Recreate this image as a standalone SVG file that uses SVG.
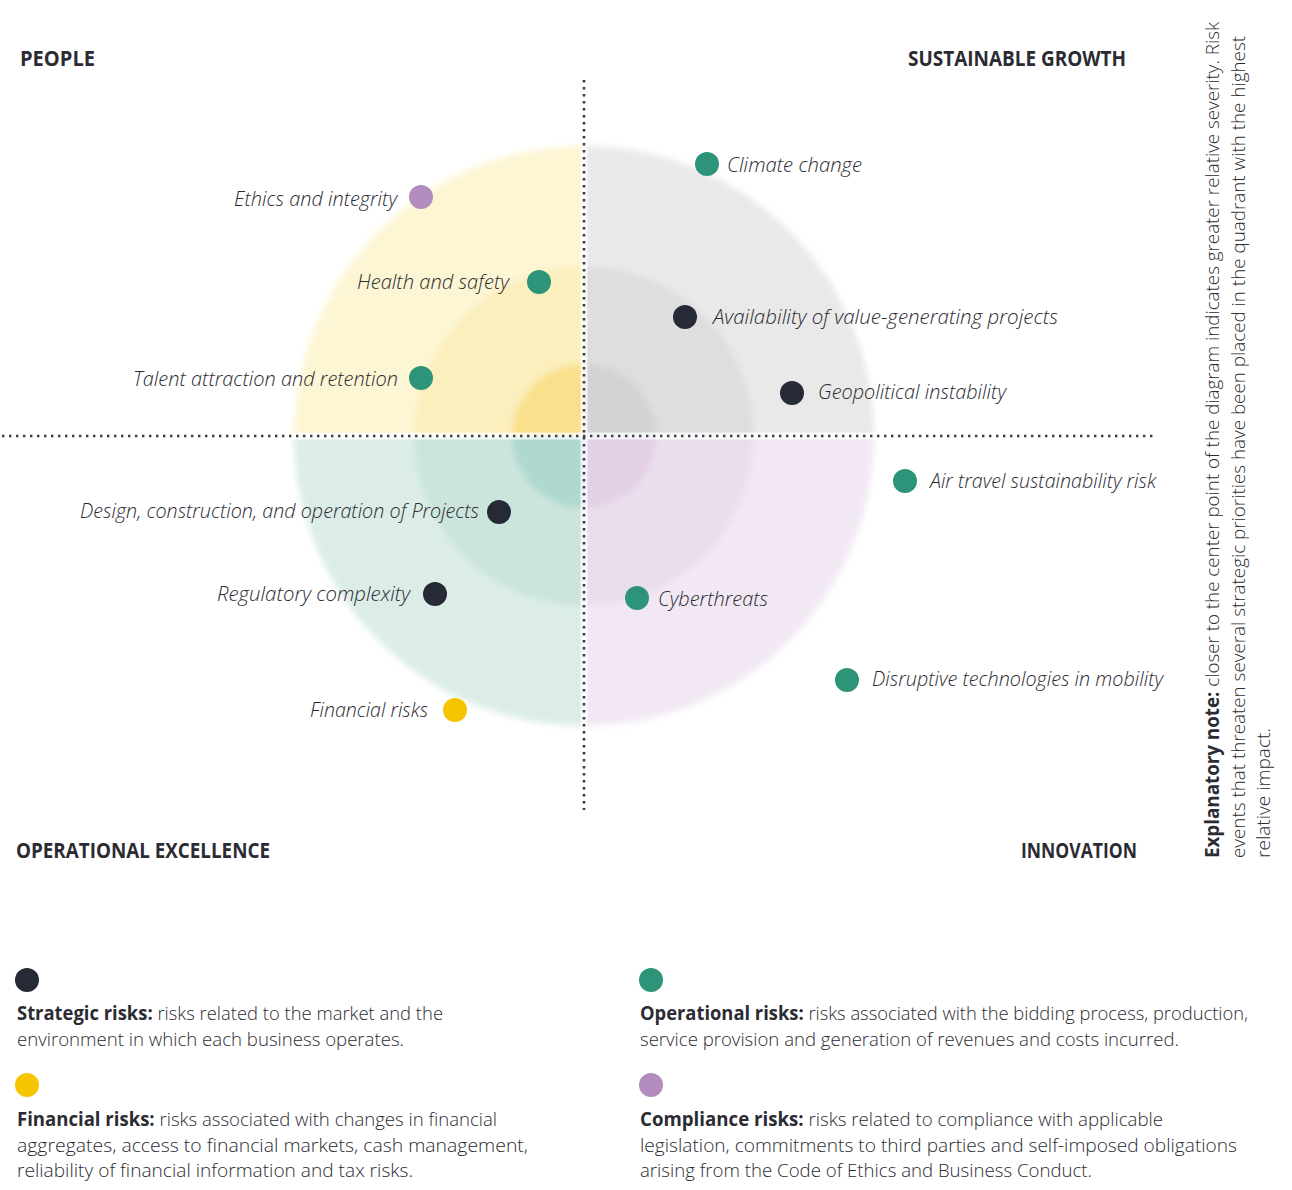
<svg xmlns="http://www.w3.org/2000/svg" width="1292" height="1190" viewBox="0 0 1292 1190">
<defs>
<style>
.lbl{font-family:"Open Sans","Noto Sans",sans-serif;font-style:italic;font-weight:300;font-size:20px;fill:#2b2b33}
.ttl{font-family:"Open Sans","Noto Sans",sans-serif;font-weight:700;font-size:21px;fill:#2b2b33}
.leg{font-family:"Open Sans","Noto Sans",sans-serif;font-weight:300;font-size:19px;fill:#2b2b33}
.leg .b{font-weight:700}
.note{font-family:"Open Sans","Noto Sans",sans-serif;font-weight:300;font-size:19px;fill:#2b2b33}
.note .b{font-weight:700}
.dk{fill:#262a36}.gr{fill:#2e9479}.pu{fill:#b28cbf}.ye{fill:#f6c500}
.dotw{stroke:#ffffff;stroke-width:7;stroke-opacity:0.75;fill:none}
.dotk{stroke:#3a3d44;stroke-width:2.6;stroke-dasharray:2.4 4.6;fill:none}
</style>
<clipPath id="cTL"><rect x="0" y="0" width="584" height="436"/></clipPath>
<clipPath id="cTR"><rect x="584" y="0" width="708" height="436"/></clipPath>
<clipPath id="cBL"><rect x="0" y="436" width="584" height="760"/></clipPath>
<clipPath id="cBR"><rect x="584" y="436" width="708" height="760"/></clipPath>
<filter id="soft" x="-10%" y="-10%" width="120%" height="120%"><feGaussianBlur stdDeviation="3"/></filter>
</defs>
<rect x="0" y="0" width="1292" height="1190" fill="#ffffff"/>

<g id="target">
<g clip-path="url(#cTL)"><g filter="url(#soft)">
<circle cx="584" cy="436" r="290" fill="#fdf6d4"/>
<circle cx="584" cy="436" r="170" fill="#fcefbe"/>
<circle cx="584" cy="436" r="72" fill="#f9e08c"/>
</g></g>
<g clip-path="url(#cTR)"><g filter="url(#soft)">
<circle cx="584" cy="436" r="290" fill="#e9e9e9"/>
<circle cx="584" cy="436" r="170" fill="#dedede"/>
<circle cx="584" cy="436" r="72" fill="#d3d3d3"/>
</g></g>
<g clip-path="url(#cBL)"><g filter="url(#soft)">
<circle cx="584" cy="436" r="290" fill="#dcede7"/>
<circle cx="584" cy="436" r="170" fill="#cbe5dc"/>
<circle cx="584" cy="436" r="72" fill="#afd8d0"/>
</g></g>
<g clip-path="url(#cBR)"><g filter="url(#soft)">
<circle cx="584" cy="436" r="290" fill="#f2e8f4"/>
<circle cx="584" cy="436" r="170" fill="#e9dfec"/>
<circle cx="584" cy="436" r="72" fill="#e3cfe6"/>
</g></g>
</g>

<g id="connectors">
<line class="dotw" x1="0" y1="436" x2="1155" y2="436"/>
<line class="dotw" x1="584" y1="78" x2="584" y2="810"/>
<line class="dotk" x1="2" y1="436" x2="1155" y2="436"/>
<line class="dotk" x1="584" y1="80" x2="584" y2="810"/>
</g>

<g id="titles">
<text class="ttl" x="20" y="66" textLength="75" lengthAdjust="spacingAndGlyphs">PEOPLE</text>
<text class="ttl" x="908" y="66" textLength="218" lengthAdjust="spacingAndGlyphs">SUSTAINABLE GROWTH</text>
<text class="ttl" x="16" y="858" textLength="254" lengthAdjust="spacingAndGlyphs">OPERATIONAL EXCELLENCE</text>
<text class="ttl" x="1021" y="858" textLength="116" lengthAdjust="spacingAndGlyphs">INNOVATION</text>
</g>

<g id="risk-ethics"><circle class="pu" cx="421" cy="197" r="12"/><text class="lbl" x="234" y="206" textLength="163" lengthAdjust="spacingAndGlyphs">Ethics and integrity</text></g>
<g id="risk-health"><circle class="gr" cx="539" cy="282" r="12"/><text class="lbl" x="357" y="289" textLength="152" lengthAdjust="spacingAndGlyphs">Health and safety</text></g>
<g id="risk-talent"><circle class="gr" cx="421" cy="378" r="12"/><text class="lbl" x="133" y="386" textLength="265" lengthAdjust="spacingAndGlyphs">Talent attraction and retention</text></g>
<g id="risk-climate"><circle class="gr" cx="707" cy="164" r="12"/><text class="lbl" x="727" y="172" textLength="135" lengthAdjust="spacingAndGlyphs">Climate change</text></g>
<g id="risk-availability"><circle class="dk" cx="685" cy="317" r="12"/><text class="lbl" x="713" y="324" textLength="345" lengthAdjust="spacingAndGlyphs">Availability of value-generating projects</text></g>
<g id="risk-geopolitical"><circle class="dk" cx="792" cy="393" r="12"/><text class="lbl" x="818" y="399" textLength="188" lengthAdjust="spacingAndGlyphs">Geopolitical instability</text></g>
<g id="risk-airtravel"><circle class="gr" cx="905" cy="481" r="12"/><text class="lbl" x="930" y="488" textLength="226" lengthAdjust="spacingAndGlyphs">Air travel sustainability risk</text></g>
<g id="risk-design"><circle class="dk" cx="499" cy="512" r="12"/><text class="lbl" x="80" y="518" textLength="399" lengthAdjust="spacingAndGlyphs">Design, construction, and operation of Projects</text></g>
<g id="risk-regulatory"><circle class="dk" cx="435" cy="594" r="12"/><text class="lbl" x="217" y="601" textLength="193" lengthAdjust="spacingAndGlyphs">Regulatory complexity</text></g>
<g id="risk-cyber"><circle class="gr" cx="637" cy="598" r="12"/><text class="lbl" x="658" y="606" textLength="110" lengthAdjust="spacingAndGlyphs">Cyberthreats</text></g>
<g id="risk-disruptive"><circle class="gr" cx="847" cy="680" r="12"/><text class="lbl" x="872" y="686" textLength="291" lengthAdjust="spacingAndGlyphs">Disruptive technologies in mobility</text></g>
<g id="risk-financial"><circle class="ye" cx="455" cy="710" r="12"/><text class="lbl" x="310" y="717" textLength="118" lengthAdjust="spacingAndGlyphs">Financial risks</text></g>

<g id="note" transform="translate(1219,858) rotate(-90)">
<text class="note" x="0" y="0" textLength="836" lengthAdjust="spacingAndGlyphs"><tspan class="b">Explanatory note:</tspan> closer to the center point of the diagram indicates greater relative severity. Risk</text>
<text class="note" x="0" y="26" textLength="822" lengthAdjust="spacingAndGlyphs">events that threaten several strategic priorities have been placed in the quadrant with the highest</text>
<text class="note" x="0" y="51" textLength="130" lengthAdjust="spacingAndGlyphs">relative impact.</text>
</g>

<g id="legend-strategic"><circle class="dk" cx="27" cy="980" r="12"/>
<text class="leg" x="17" y="1020" textLength="426" lengthAdjust="spacingAndGlyphs"><tspan class="b">Strategic risks:</tspan> risks related to the market and the</text>
<text class="leg" x="17" y="1046" textLength="387" lengthAdjust="spacingAndGlyphs">environment in which each business operates.</text></g>
<g id="legend-financial"><circle class="ye" cx="27" cy="1085" r="12"/>
<text class="leg" x="17" y="1126" textLength="480" lengthAdjust="spacingAndGlyphs"><tspan class="b">Financial risks:</tspan> risks associated with changes in financial</text>
<text class="leg" x="17" y="1152" textLength="511" lengthAdjust="spacingAndGlyphs">aggregates, access to financial markets, cash management,</text>
<text class="leg" x="17" y="1177" textLength="396" lengthAdjust="spacingAndGlyphs">reliability of financial information and tax risks.</text></g>
<g id="legend-operational"><circle class="gr" cx="651" cy="980" r="12"/>
<text class="leg" x="640" y="1020" textLength="608" lengthAdjust="spacingAndGlyphs"><tspan class="b">Operational risks:</tspan> risks associated with the bidding process, production,</text>
<text class="leg" x="640" y="1046" textLength="539" lengthAdjust="spacingAndGlyphs">service provision and generation of revenues and costs incurred.</text></g>
<g id="legend-compliance"><circle class="pu" cx="651" cy="1085" r="12"/>
<text class="leg" x="640" y="1126" textLength="523" lengthAdjust="spacingAndGlyphs"><tspan class="b">Compliance risks:</tspan> risks related to compliance with applicable</text>
<text class="leg" x="640" y="1152" textLength="597" lengthAdjust="spacingAndGlyphs">legislation, commitments to third parties and self-imposed obligations</text>
<text class="leg" x="640" y="1177" textLength="452" lengthAdjust="spacingAndGlyphs">arising from the Code of Ethics and Business Conduct.</text></g>
</svg>
